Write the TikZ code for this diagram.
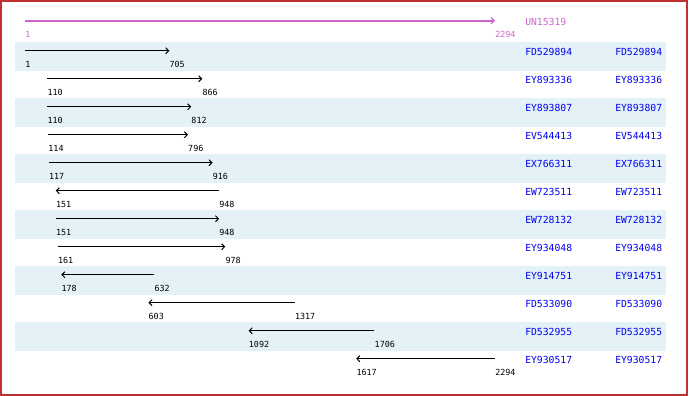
\documentclass[tikz,border=0pt]{standalone}
\usepackage{fontspec}
\newfontfamily\namefont{DejaVu Sans Mono}
\newfontfamily\numfont{DejaVu Sans Mono}
\usetikzlibrary{arrows.meta}
\definecolor{pinkc}{HTML}{CC66CC}
\definecolor{bluec}{HTML}{0000EE}
\definecolor{shadec}{HTML}{E4F1F6}
\definecolor{framec}{HTML}{C03030}
\tikzset{
  feat/.style={draw=black, line width=0.75pt, -{Straight Barb[length=2.2pt,width=4.5pt,line width=0.75pt]}},
  qline/.style={draw=pinkc, line width=1.5pt, -{Straight Barb[length=2.2pt,width=4.5pt,line width=0.9pt]}},
  numlbl/.style={anchor=west, inner sep=0pt, font=\numfont\fontsize{6.3pt}{6.3pt}\selectfont, text=black},
  namelbl/.style={anchor=west, inner sep=0pt, font=\namefont\fontsize{7.3pt}{7.3pt}\selectfont, text=bluec},
  rowshade/.style={fill=shadec, draw=none}
}
\begin{document}
\begin{tikzpicture}[x=0.75pt,y=-0.75pt]
\useasboundingbox (0,0) rectangle (690,396);
\fill[white] (0,0) rectangle (690,396);
\foreach \r in {1,3,5,7,9,11} {
  \fill[rowshade] (15,{42+28*(\r-1)}) rectangle (666,{71+28*(\r-1)});
}
\draw[framec, line width=1.2pt] (1,1) rectangle (687,395);
% query
\coordinate (q1) at (25,20.7);
\coordinate (q2) at (495,20.7);
\draw[qline] (q1) -- (q2);
\node[numlbl, text=pinkc] (qa) at (25,34) {1};
\node[numlbl, text=pinkc] (qb) at (495,34) {2294};
\node[namelbl, text=pinkc] (qn) at (525,22) {UN15319};
% hits
\foreach \i/\nm/\a/\b/\d in {1/FD529894/1/705/1, 2/EY893336/110/866/1, 3/EY893807/110/812/1, 4/EV544413/114/796/1, 5/EX766311/117/916/1, 6/EW723511/151/948/0, 7/EW728132/151/948/1, 8/EY934048/161/978/1, 9/EY914751/178/632/0, 10/FD533090/603/1317/0, 11/FD532955/1092/1706/0, 12/EY930517/1617/2294/0} {
  \pgfmathsetmacro\xa{25+(\a-1)*(470/2293)}
  \pgfmathsetmacro\xb{25+(\b-1)*(470/2293)}
  \pgfmathsetmacro\yy{50.7+28*(\i-1)}
  \coordinate (s\i) at (\xa,\yy);
  \coordinate (e\i) at (\xb,\yy);
  \ifnum\d=1
    \draw[feat] (s\i) -- (e\i);
  \else
    \draw[feat] (e\i) -- (s\i);
  \fi
  \node[numlbl] (la\i) at (\xa,\yy+13.3) {\a};
  \node[numlbl] (lb\i) at (\xb,\yy+13.3) {\b};
  \node[namelbl] (na\i) at (525,\yy+1.3) {\nm};
  \node[namelbl] (nb\i) at (615,\yy+1.3) {\nm};
}
\end{tikzpicture}
\end{document}
